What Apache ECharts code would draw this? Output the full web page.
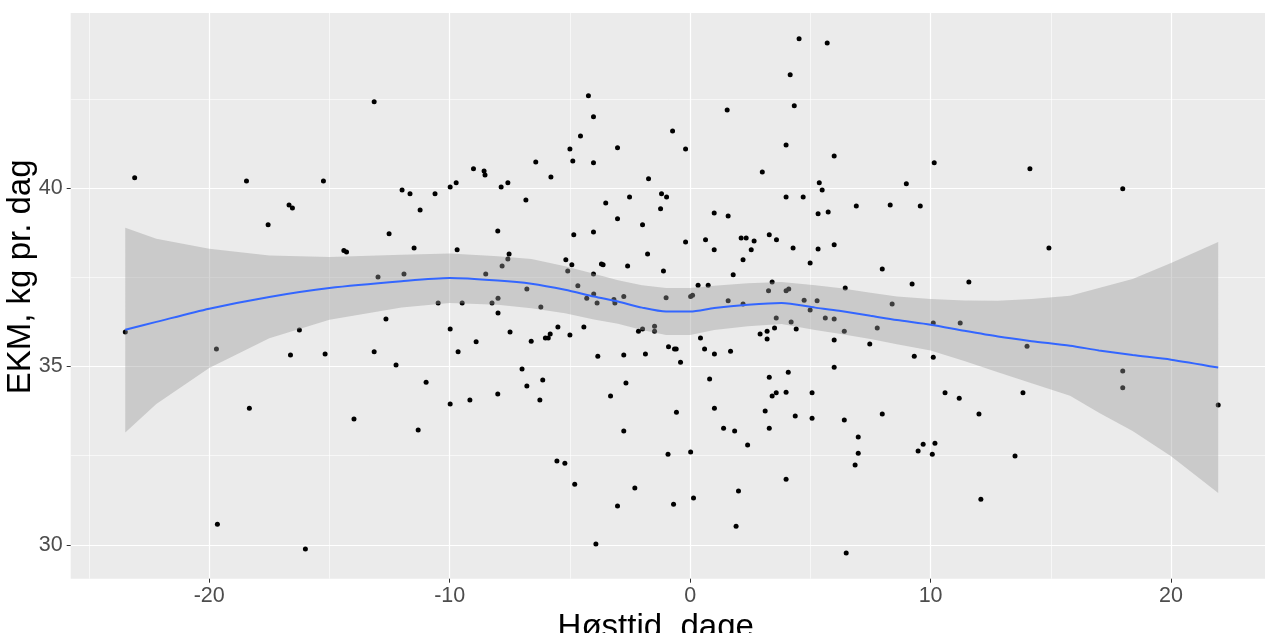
<!DOCTYPE html>
<html><head><meta charset="utf-8">
<script src="https://cdn.jsdelivr.net/npm/echarts@6/dist/echarts.min.js"></script>
<style>html,body{margin:0;padding:0;background:#fff}#c{width:1265px;height:633px}</style>
</head><body><div id="c"></div>
<script>
// ---- data ----
const pointX = [-23.49,-23.1,-19.7,-19.66,-18.45,-18.33,-17.55,-16.68,-16.54,-16.25,-16.62,-16.0,-15.25,-15.18,-14.4,-14.29,-13.98,-13.14,-13.14,-12.98,-12.65,-12.52,-12.23,-11.98,-11.9,-11.65,-11.48,-11.31,-11.23,-10.98,-10.61,-10.48,-9.98,-9.73,-9.69,-9.98,-9.98,-9.65,-9.48,-9.16,-9.01,-8.9,-8.57,-8.53,-8.5,-8.24,-8.0,-7.99,-7.99,-8.0,-7.86,-7.82,-7.58,-7.53,-7.58,-7.49,-6.99,-6.83,-6.79,-6.79,-6.61,-6.42,-6.25,-6.21,-6.13,-6.02,-5.9,-5.82,-5.79,-5.54,-5.5,-5.21,-5.17,-5.09,-5.0,-5.0,-4.92,-4.88,-4.84,-4.8,-4.67,-4.56,-4.42,-4.3,-4.23,-4.02,-4.02,-4.02,-4.02,-4.01,-3.92,-3.87,-3.84,-3.69,-3.62,-3.51,-3.31,-3.17,-3.13,-3.02,-3.02,-3.02,-2.76,-2.76,-2.76,-2.67,-2.6,-2.52,-2.3,-2.15,-1.98,-1.98,-1.86,-1.77,-1.73,-1.48,-1.48,-1.23,-1.19,-1.11,-1.0,-0.98,-0.92,-0.9,-0.73,-0.69,-0.65,-0.58,-0.57,-0.4,-0.19,-0.19,0.02,0.1,0.02,0.14,0.33,0.43,0.6,0.64,0.75,0.81,1.0,1.0,1.01,1.01,1.39,1.54,1.58,1.58,1.68,1.79,1.85,1.91,2.01,2.12,2.2,2.2,2.33,2.39,2.54,2.66,2.91,3.0,3.12,3.2,3.2,3.26,3.29,3.29,3.29,3.41,3.41,3.51,3.58,3.58,3.59,3.99,3.99,3.99,3.99,3.99,4.08,4.1,4.16,4.2,4.28,4.33,4.37,4.41,4.53,4.7,4.74,4.99,4.99,5.07,5.07,5.28,5.32,5.32,5.37,5.49,5.62,5.7,5.74,5.99,5.99,5.99,5.99,5.99,6.41,6.41,6.45,6.49,6.86,6.91,6.99,6.99,7.47,7.78,7.99,7.99,8.32,8.4,8.99,9.23,9.32,9.48,9.57,9.69,10.07,10.11,10.11,10.15,10.18,10.6,11.19,11.23,11.59,12.01,12.09,13.51,13.84,14.01,14.13,14.92,17.99,17.99,17.99,21.96];
const pointY = [35.97,40.29,35.49,30.58,40.2,33.83,38.97,39.53,39.44,36.02,35.32,29.88,40.2,35.35,38.25,38.21,33.53,42.42,35.41,37.51,36.33,38.72,35.04,39.95,37.59,39.84,38.32,33.22,39.39,34.56,39.84,36.78,40.03,40.15,38.27,36.05,33.95,35.41,36.78,34.06,40.54,35.69,40.48,40.37,37.59,36.78,38.8,36.91,36.5,34.23,40.03,37.82,40.15,38.15,38.01,35.97,34.93,39.67,37.17,34.45,35.71,40.73,34.06,36.67,34.62,35.8,35.8,35.91,40.31,32.35,36.11,32.29,37.99,37.68,41.1,35.88,37.85,40.76,38.69,31.7,37.26,41.46,36.11,36.91,42.59,42.0,40.71,38.77,37.59,37.03,30.02,36.78,35.29,37.87,37.85,39.58,34.17,36.88,36.78,41.13,39.14,31.09,36.96,35.32,33.19,34.54,37.82,39.75,31.59,35.99,38.97,36.05,35.35,38.15,40.26,36.13,35.99,39.42,39.84,37.68,36.93,39.75,32.54,35.55,41.6,31.14,35.49,35.49,33.72,35.12,41.1,38.49,36.96,37.0,32.6,31.31,37.28,35.8,35.49,38.55,37.28,34.65,39.3,38.27,35.35,33.83,33.27,42.19,39.22,36.84,35.43,37.57,33.19,30.52,31.51,38.6,37.99,36.75,38.6,32.8,38.27,38.52,35.91,40.45,33.75,35.99,35.77,37.12,38.69,34.7,33.27,37.37,34.17,36.08,36.36,34.26,38.55,41.21,39.75,37.12,34.28,31.84,34.84,37.17,43.18,36.25,38.32,42.31,33.61,36.05,44.19,39.75,36.86,37.9,36.58,34.26,33.55,36.84,39.28,38.29,40.15,39.95,36.36,44.07,39.33,40.9,38.41,36.33,35.74,34.98,35.99,33.5,37.2,29.77,32.24,39.5,33.02,32.57,35.63,36.08,37.73,33.67,39.53,36.75,40.12,37.31,35.29,32.63,39.5,32.82,32.54,36.22,35.26,40.71,32.85,34.26,34.11,36.22,37.37,33.67,31.28,32.49,34.26,35.57,40.54,38.32,39.98,34.87,34.4,33.92];

const smoothX     = [-23.49,-22.2,-20,-17.5,-15,-12,-10,-8,-6.6,-5.2,-4,-3,-2,-1,0,1,2.4,3.8,5.2,6.2,7.5,8.6,10,11.4,12.8,14.2,15.8,17,18.4,20,21.96];
const smoothFit   = [36.03,36.25,36.62,36.95,37.2,37.39,37.48,37.41,37.32,37.15,36.96,36.82,36.65,36.54,36.54,36.64,36.73,36.78,36.65,36.56,36.42,36.3,36.17,36.0,35.84,35.71,35.58,35.45,35.32,35.19,34.97];
const smoothUpper = [38.89,38.58,38.3,38.11,38.07,38.13,38.17,38.09,38.01,37.81,37.6,37.42,37.28,37.2,37.2,37.26,37.33,37.37,37.28,37.2,37.07,36.96,36.89,36.85,36.84,36.89,36.98,37.2,37.45,37.9,38.49];
const smoothLower = [33.15,33.95,34.96,35.79,36.31,36.65,36.78,36.73,36.63,36.49,36.32,36.2,36.02,35.88,35.88,36.02,36.13,36.19,36.02,35.92,35.77,35.62,35.45,35.15,34.84,34.53,34.18,33.7,33.19,32.48,31.45];

const xMajorTicks = [-20,-10,0,10,20];
const xMinorTicks = [-25,-15,-5,5,15];
const yMajorTicks = [30,35,40];
const yMinorTicks = [32.5,37.5,42.5];
const xRange = [-25.76, 24.23];
const yRange = [29.05, 44.91];
const xTitle = 'Høsttid, dage';
const yTitle = 'EKM, kg pr. dag';

// ---- chart ----
const FONT = '"Liberation Sans", Arial, sans-serif';
const chart = echarts.init(document.getElementById('c'), null, {renderer: 'canvas'});

function axisPair(dir, range, major, minor, title) {
  const isX = dir === 'x';
  const main = {
    type: 'value', min: range[0], max: range[1],
    position: isX ? 'bottom' : 'left',
    axisLine: {show: false, onZero: false},
    axisTick: {show: true, length: 4, lineStyle: {color: '#333333', width: 1}, customValues: major},
    axisLabel: {customValues: major, color: '#4D4D4D', fontSize: 21.5, fontFamily: FONT, margin: isX ? 6 : 8},
    splitLine: {show: true, lineStyle: {color: '#FFFFFF', width: 1.2}},
    name: title, nameLocation: 'middle',
    nameGap: isX ? 28 : 33,
    nameTextStyle: {color: '#000000', fontSize: 33, fontFamily: FONT,
                    padding: isX ? [0, 32, 0, 0] : [0, 0, 0, 38]},
    z: 1
  };
  if (!isX) { main.nameRotate = 90; main.nameMoveOverlap = false; }
  const sub = {
    type: 'value', min: range[0], max: range[1],
    position: isX ? 'bottom' : 'left',
    axisLine: {show: false, onZero: false},
    axisTick: {show: false, customValues: minor},
    axisLabel: {show: false, customValues: minor},
    splitLine: {show: true, lineStyle: {color: '#FFFFFF', width: 0.6}},
    z: 1
  };
  return [main, sub];
}

const scatterData = pointX.map((x, i) => [x, pointY[i]]);
const fitData = smoothX.map((x, i) => [x, smoothFit[i]]);

chart.setOption({
  animation: false,
  backgroundColor: '#FFFFFF',
  grid: {left: 70.7, right: -7.8, top: 13, bottom: 54.3, show: true, backgroundColor: '#EBEBEB', borderWidth: 0,
         containLabel: false, outerBoundsMode: 'none'},
  xAxis: axisPair('x', xRange, xMajorTicks, xMinorTicks, xTitle),
  yAxis: axisPair('y', yRange, yMajorTicks, yMinorTicks, yTitle),
  series: [
    {
      type: 'scatter', xAxisIndex: 0, yAxisIndex: 0, data: scatterData,
      symbol: 'circle', symbolSize: 5, itemStyle: {color: '#000000', opacity: 1}, z: 2, silent: true
    },
    {
      type: 'custom', xAxisIndex: 0, yAxisIndex: 0, z: 3, silent: true,
      data: [[0, 36]],
      renderItem: function (params, api) {
        const pts = [];
        for (let i = 0; i < smoothX.length; i++) pts.push(api.coord([smoothX[i], smoothUpper[i]]));
        for (let i = smoothX.length - 1; i >= 0; i--) pts.push(api.coord([smoothX[i], smoothLower[i]]));
        return {type: 'polygon', shape: {points: pts}, style: {fill: 'rgba(153,153,153,0.4)'}};
      }
    },
    {
      type: 'line', xAxisIndex: 0, yAxisIndex: 0, data: fitData, showSymbol: false, smooth: 0.25,
      lineStyle: {color: '#3366FF', width: 2}, z: 4, silent: true
    }
  ]
});
</script>
</body></html>
